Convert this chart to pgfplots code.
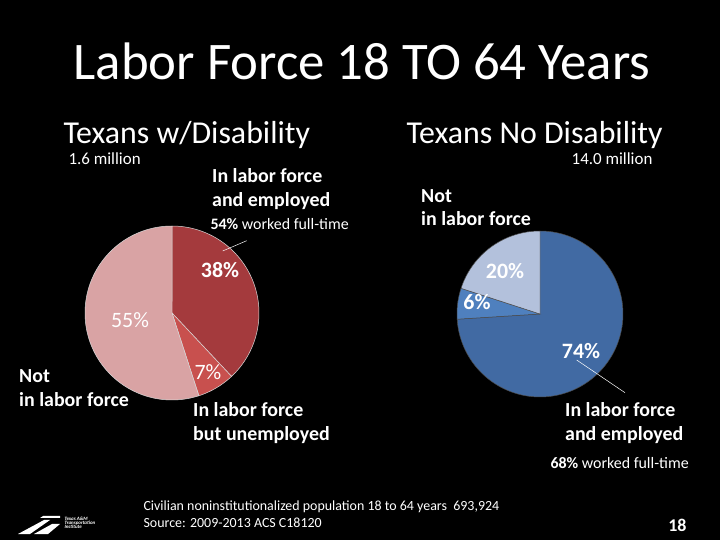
\documentclass[border=0pt]{standalone}
\usepackage{pgfplots}
\pgfplotsset{compat=1.18}
\usepackage{fontspec}
\setmainfont{Carlito}
\definecolor{dred}{HTML}{A43A3D}
\definecolor{mred}{HTML}{C8504E}
\definecolor{lpink}{HTML}{D9A3A4}
\definecolor{dblue}{HTML}{416AA3}
\definecolor{mblue}{HTML}{4F80BE}
\definecolor{lblue}{HTML}{B3C1DC}
% pie shares (percent)
\def\LEmp{38}\def\LUnemp{7}\def\LNot{55}
\def\REmp{74}\def\RUnemp{6}\def\RNot{20}
\newcommand{\fs}[1]{\fontsize{#1}{#1}\selectfont}
\tikzset{lab/.style={text=white, inner sep=0pt, font=\fs{20}\bfseries, align=left}}
\begin{document}
\begin{tikzpicture}
\fill[black] (0,0) rectangle (720bp,540bp);
\begin{axis}[at={(0,0)}, anchor=south west, scale only axis,
  width=720bp, height=540bp, xmin=0, xmax=720, ymin=0, ymax=540,
  hide axis, clip=false]
% left pie: centre (172,227), r=87
\addplot[fill=dred, draw=white!85!black, line width=0.5pt, domain={90-3.6*\LEmp}:90, samples=80, variable=\t]
  ({172+87*cos(\t)},{227+87*sin(\t)}) -- (axis cs:172,227) -- cycle;
\addplot[fill=mred, draw=white!85!black, line width=0.5pt, domain={90-3.6*(\LEmp+\LUnemp)}:{90-3.6*\LEmp}, samples=30, variable=\t]
  ({172+87*cos(\t)},{227+87*sin(\t)}) -- (axis cs:172,227) -- cycle;
\addplot[fill=lpink, draw=white!85!black, line width=0.5pt, domain={90-3.6*(\LEmp+\LUnemp+\LNot)}:{90-3.6*(\LEmp+\LUnemp)}, samples=100, variable=\t]
  ({172+87*cos(\t)},{227+87*sin(\t)}) -- (axis cs:172,227) -- cycle;
% right pie: centre (540,226), r=83
\addplot[fill=dblue, draw=black!70, line width=0.5pt, domain={90-3.6*\REmp}:90, samples=120, variable=\t]
  ({540+83*cos(\t)},{226+83*sin(\t)}) -- (axis cs:540,226) -- cycle;
\addplot[fill=mblue, draw=black!70, line width=0.5pt, domain={90-3.6*(\REmp+\RUnemp)}:{90-3.6*\REmp}, samples=20, variable=\t]
  ({540+83*cos(\t)},{226+83*sin(\t)}) -- (axis cs:540,226) -- cycle;
\addplot[fill=lblue, draw=black!70, line width=0.5pt, domain={90-3.6*(\REmp+\RUnemp+\RNot)}:{90-3.6*(\REmp+\RUnemp)}, samples=40, variable=\t]
  ({540+83*cos(\t)},{226+83*sin(\t)}) -- (axis cs:540,226) -- cycle;
% leader lines
\draw[white, line width=0.5pt] (axis cs:246.7,299.3) -- (axis cs:222.7,289);
\draw[white, line width=0.5pt] (axis cs:576.7,180) -- (axis cs:625,147.3);
% title
\node[text=white, anchor=base, font=\fs{53}] at (axis cs:362,460) {Labor Force 18 TO 64 Years};
\node[text=white, anchor=base west, font=\fs{32}] at (axis cs:60,396) {Texans w/Disability};
\node[text=white, anchor=base west, font=\fs{32}] at (axis cs:403,396) {Texans No Disability};
\node[text=white, anchor=base west, font=\fs{17}] at (axis cs:65,376) {1.6 million};
\node[text=white, anchor=base east, font=\fs{17}] at (axis cs:656,376) {14.0 million};
% left labels
\node[lab, anchor=base west] at (axis cs:212,358) {In labor force};
\node[lab, anchor=base west] at (axis cs:212,334) {and employed};
\node[text=white, anchor=base west, font=\fs{16}] at (axis cs:207,311) {\textbf{54\%} worked full-time};
\node[text=white, font=\fs{22}\bfseries] at (axis cs:220,270) {38\%};
\node[text=white, font=\fs{22}] at (axis cs:130,220) {55\%};
\node[text=white, font=\fs{22}] at (axis cs:208,168) {7\%};
\node[lab, anchor=base west] at (axis cs:19,158) {Not};
\node[lab, anchor=base west] at (axis cs:19,134) {in labor force};
\node[lab, anchor=base west] at (axis cs:193,124) {In labor force};
\node[lab, anchor=base west] at (axis cs:193,100) {but unemployed};
% right labels
\node[lab, anchor=base west] at (axis cs:421,338) {Not};
\node[lab, anchor=base west] at (axis cs:421,315) {in labor force};
\node[text=white, font=\fs{22}\bfseries] at (axis cs:505,269) {20\%};
\node[text=white, font=\fs{22}\bfseries] at (axis cs:477,238) {6\%};
\node[text=white, font=\fs{22}\bfseries] at (axis cs:581,189) {74\%};
\node[lab, anchor=base west] at (axis cs:565,124) {In labor force};
\node[lab, anchor=base west] at (axis cs:565,100) {and employed};
\node[text=white, anchor=base west, font=\fs{16}] at (axis cs:547,72) {\textbf{68\%} worked full-time};
% footer
\node[text=white, anchor=base west, font=\fs{14}] at (axis cs:140,30) {Civilian noninstitutionalized population 18 to 64 years\ \ 693,924};
\node[text=white, anchor=base west, font=\fs{14}] at (axis cs:140,13) {Source: 2009-2013 ACS C18120};
\node[text=white, anchor=base east, font=\fs{18}\bfseries] at (axis cs:690,9) {18};
% logo
\fill[white] (axis cs:18,6) -- (axis cs:30,6) -- (axis cs:50,20) -- (axis cs:44,20) -- cycle;
\fill[white] (axis cs:34,6) -- (axis cs:48,6) -- (axis cs:60,16) -- (axis cs:52,16) -- cycle;
\fill[white] (axis cs:40,22) -- (axis cs:60,22) -- (axis cs:60,24) -- (axis cs:43,24) -- cycle;
\node[text=white, anchor=north west, align=left, font=\fs{5}\bfseries\itshape] at (axis cs:61,26) {Texas A\&M\\[-1pt]Transportation\\[-1pt]Institute};
\end{axis}
\end{tikzpicture}
\end{document}
